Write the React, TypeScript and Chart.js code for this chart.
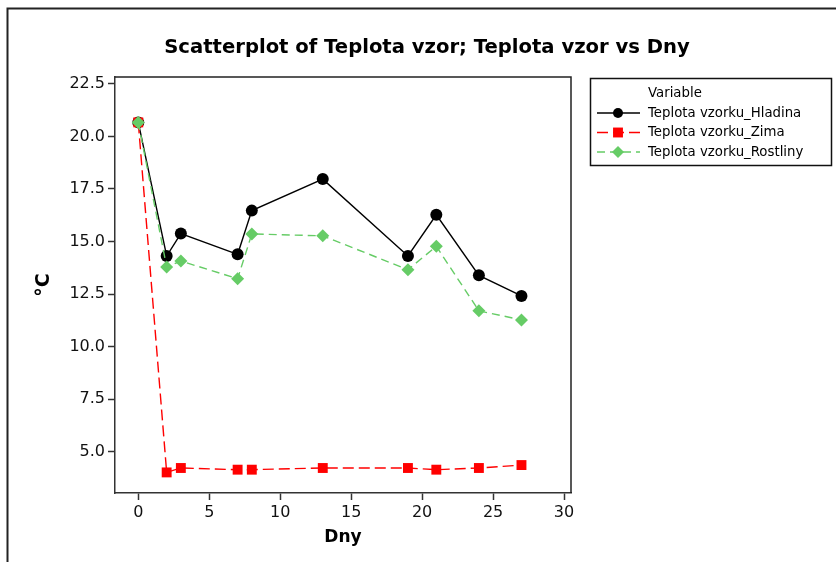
import { useEffect, useRef } from 'react';
import { Chart, registerables } from 'chart.js';

Chart.register(...registerables);

const TITLE = 'Scatterplot of Teplota vzor; Teplota vzor vs Dny';
const X_TITLE = 'Dny';
const Y_TITLE = '°C';
const LEGEND_TITLE = 'Variable';

const DAYS = [0, 2, 3, 7, 8, 13, 19, 21, 24, 27];
const HLADINA = [20.67, 14.31, 15.38, 14.39, 16.47, 17.97, 14.31, 16.27, 13.39, 12.41];
const ZIMA = [20.67, 4.01, 4.22, 4.14, 4.14, 4.22, 4.22, 4.14, 4.22, 4.36];
const ROSTLINY = [20.67, 13.79, 14.07, 13.23, 15.36, 15.27, 13.66, 14.77, 11.7, 11.27];
const SERIES_NAMES = ['Teplota vzorku_Hladina', 'Teplota vzorku_Zima', 'Teplota vzorku_Rostliny'];

const X_TICKS = [0, 5, 10, 15, 20, 25, 30];
const Y_TICKS = [5, 7.5, 10, 12.5, 15, 17.5, 20, 22.5];

const FONT = '"DejaVu Sans", Verdana, sans-serif';

function drawMarker(ctx: CanvasRenderingContext2D, style: string, x: number, y: number, r: number, color: string) {
  ctx.save();
  ctx.setLineDash([]);
  ctx.fillStyle = color;
  ctx.beginPath();
  if (style === 'circle') {
    ctx.arc(x, y, r, 0, Math.PI * 2);
  } else if (style === 'rect') {
    const s = r * Math.SQRT1_2;
    ctx.rect(x - s, y - s, 2 * s, 2 * s);
  } else {
    ctx.moveTo(x, y - r);
    ctx.lineTo(x + r, y);
    ctx.lineTo(x, y + r);
    ctx.lineTo(x - r, y);
    ctx.closePath();
  }
  ctx.fill();
  ctx.restore();
}

const decor = {
  id: 'decor',
  beforeDraw(chart: any) {
    const ctx = chart.ctx;
    ctx.save();
    ctx.fillStyle = '#fff';
    ctx.fillRect(0, 0, chart.width, chart.height);
    ctx.restore();
  },
  afterDraw(chart: any) {
    const ctx: CanvasRenderingContext2D = chart.ctx;
    const a = chart.chartArea;
    ctx.save();
    // outer frame
    ctx.strokeStyle = '#222';
    ctx.lineWidth = 2;
    ctx.beginPath();
    ctx.moveTo(7.5, chart.height);
    ctx.lineTo(7.5, 8.5);
    ctx.lineTo(chart.width, 8.5);
    ctx.stroke();
    // plot box top / right
    ctx.lineWidth = 1.5;
    ctx.strokeStyle = '#222';
    ctx.beginPath();
    ctx.moveTo(a.left, a.top);
    ctx.lineTo(a.right, a.top);
    ctx.lineTo(a.right, a.bottom);
    ctx.stroke();
    // title
    ctx.fillStyle = '#000';
    ctx.font = `bold 19.6px ${FONT}`;
    ctx.textAlign = 'center';
    ctx.textBaseline = 'middle';
    ctx.fillText(TITLE, 427, 48);
    // legend
    const lx = 590.5, ly = 78.5, lw = 241, lh = 87;
    ctx.lineWidth = 1.5;
    ctx.strokeStyle = '#111';
    ctx.strokeRect(lx, ly, lw, lh);
    ctx.font = `13.3px ${FONT}`;
    ctx.textAlign = 'left';
    ctx.fillText(LEGEND_TITLE, 648, 93.5);
    chart.data.datasets.forEach((ds: any, i: number) => {
      const y = 113 + i * 19.5;
      ctx.save();
      ctx.strokeStyle = ds.borderColor;
      ctx.lineWidth = ds.borderWidth;
      ctx.setLineDash(ds.borderDash || []);
      ctx.beginPath();
      ctx.moveTo(597, y);
      ctx.lineTo(640, y);
      ctx.stroke();
      ctx.restore();
      const r = ds.pointStyle === 'circle' ? 5 : ds.pointStyle === 'rect' ? 7 : 6;
      drawMarker(ctx, ds.pointStyle, 618, y, r, ds.pointBackgroundColor);
      ctx.fillStyle = '#000';
      ctx.fillText(ds.label, 648, y + 0.5);
    });
    ctx.restore();
  },
};

export default function App() {
  const ref = useRef<HTMLCanvasElement>(null);
  useEffect(() => {
    const mk = (vals: number[]) => DAYS.map((d, i) => ({ x: d, y: vals[i] }));
    const chart = new Chart(ref.current!, {
      type: 'line',
      data: {
        datasets: [
          {
            label: SERIES_NAMES[0],
            data: mk(HLADINA),
            borderColor: '#000000',
            borderWidth: 1.4,
            pointStyle: 'circle',
            pointRadius: 6,
            pointBackgroundColor: '#000000',
            pointBorderColor: '#000000',
            pointBorderWidth: 0,
            tension: 0,
            order: 3,
          },
          {
            label: SERIES_NAMES[1],
            data: mk(ZIMA),
            borderColor: '#ff0000',
            borderWidth: 1.4,
            borderDash: [11, 5],
            pointStyle: 'rect',
            pointRadius: 7,
            pointBackgroundColor: '#ff0000',
            pointBorderColor: '#ff0000',
            pointBorderWidth: 0,
            tension: 0,
            order: 2,
          },
          {
            label: SERIES_NAMES[2],
            data: mk(ROSTLINY),
            borderColor: '#66cc66',
            borderWidth: 1.4,
            borderDash: [8, 5],
            pointStyle: 'rectRot',
            pointRadius: 6.5,
            pointBackgroundColor: '#66cc66',
            pointBorderColor: '#66cc66',
            pointBorderWidth: 0,
            tension: 0,
            order: 1,
          },
        ],
      } as any,
      options: {
        responsive: false,
        animation: false,
        layout: { padding: { left: 0, top: 77, right: 265, bottom: 0 } },
        plugins: { legend: { display: false }, tooltip: { enabled: false }, title: { display: false } },
        scales: {
          x: {
            type: 'linear',
            min: -1.64,
            max: 30.49,
            afterFit: (s: any) => { s.height = 69; },
            afterBuildTicks: (s: any) => { s.ticks = X_TICKS.map((v) => ({ value: v })); },
            grid: { display: true, drawOnChartArea: false, drawTicks: true, tickLength: 7, tickColor: '#333', tickWidth: 1.5 },
            border: { display: true, color: '#333', width: 1.5 },
            ticks: { color: '#111', padding: 3, font: { family: FONT, size: 16 }, callback: (v: any) => String(v) },
            title: { display: true, text: X_TITLE, color: '#000', font: { family: FONT, size: 17, weight: 'bold' }, padding: { top: 0, bottom: 14 } },
          },
          y: {
            type: 'linear',
            min: 3.03,
            max: 22.83,
            afterFit: (s: any) => { s.width = 115; },
            afterBuildTicks: (s: any) => { s.ticks = Y_TICKS.map((v) => ({ value: v })); },
            grid: { display: true, drawOnChartArea: false, drawTicks: true, tickLength: 7, tickColor: '#333', tickWidth: 1.5 },
            border: { display: true, color: '#333', width: 1.5 },
            ticks: { color: '#111', padding: 3, font: { family: FONT, size: 16 }, callback: (v: any) => Number(v).toFixed(1) },
            title: { display: true, text: Y_TITLE, color: '#000', font: { family: FONT, size: 19, weight: 'bold' }, padding: { top: 33, bottom: 0 } },
          },
        },
      } as any,
      plugins: [decor],
    });
    return () => chart.destroy();
  }, []);
  return (
    <div style={{ position: 'absolute', left: 0, top: 0, width: 836, height: 562 }}>
      <canvas ref={ref} width={836} height={562} style={{ display: 'block' }} />
    </div>
  );
}
